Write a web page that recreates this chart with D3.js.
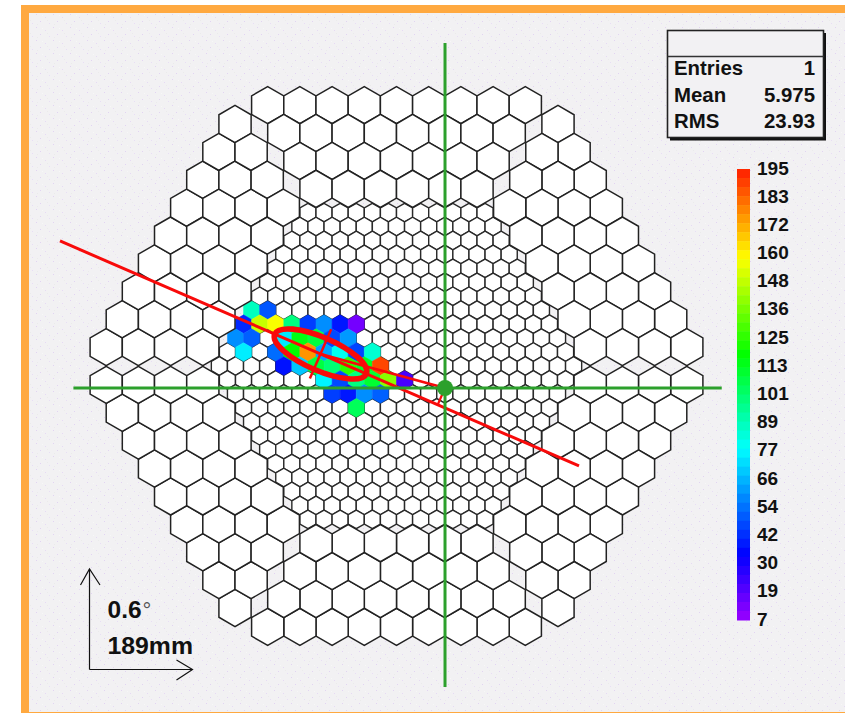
<!DOCTYPE html>
<html><head><meta charset="utf-8">
<script src="https://cdnjs.cloudflare.com/ajax/libs/d3/7.8.5/d3.min.js"></script>
<style>html,body{margin:0;padding:0;background:#fff}svg{display:block}text{font-family:"Liberation Sans",Arial,sans-serif;font-weight:700;fill:#111}</style>
</head><body><svg id="c" width="845" height="713"></svg>
<script>
// ---- data ----
const statLabels = ["Entries", "Mean", "RMS"];
const statValues = ["1", "5.975", "23.93"];
const colorTicks = [195,183,172,160,148,136,125,113,101,89,77,66,54,42,30,19,7];
const paletteValues = [7,33,78,118,159,195];
const paletteColors = ["#9000ff","#0000ff","#00ffff","#00ff00","#ffff00","#ff2800"];
const innerRings = 11;
const outerRowCounts = [9,8,7,6];
const litRows = [-4,-4,
  -3,-3,-3,-3,-3,-3,-3,-3,
  -2,-2,-2,-2,-2,-2,-2,
  -1,-1,-1,-1,-1,-1,-1,-1,
  0,0,0,0,0,0,0,
  1,1,1,1,1,1,
  2,2,2,2,
  3];
const litCols = [-9,-8,
  -9.5,-8.5,-7.5,-6.5,-5.5,-4.5,-3.5,-2.5,
  -10,-9,-7,-6,-5,-4,-3,
  -9.5,-7.5,-6.5,-5.5,-4.5,-3.5,-2.5,-1.5,
  -7,-6,-5,-4,-3,-2,-1,
  -4.5,-3.5,-2.5,-1.5,-0.5,0.5,
  -4,-3,-2,-1,
  -2.5];
const litValues = [88,48,
  40,150,158,98,44,58,37,12,
  58,50,74,115,108,46,60,
  75,52,118,177,62,80,45,85,
  36,68,108,100,125,112,190,
  76,46,98,110,140,20,
  44,37,58,50,
  104];
const sourcePos = [90.4,41];
const axisStart = [-627,-233];
const axisEnd = [340,186.3];
const ellipseCentre = [-141.6,-22.4];
const ellipseLength = 93, ellipseWidth = 31, ellipseAngle = 23.4, minorAxisHalf = 50;
const axisFoot = [76.8,72.1];
const crossX = [-602,606], crossY = [-602,598];
const innerPitch = 30, outerPitch = 60, scaleMm = 189;

// ---- scales ----
const k = 0.5367;
const x = d3.scaleLinear().domain([-100,100]).range([396.5-100*k,396.5+100*k]);
const y = d3.scaleLinear().domain([-100,100]).range([366-100*k,366+100*k]);
const color = d3.scaleLinear().domain(paletteValues).range(paletteColors).clamp(true);
const svg = d3.select("#c");

// ---- frame ----
const defs = svg.append("defs");
const pat = defs.append("pattern").attr("id","bg").attr("width",17).attr("height",13).attr("patternUnits","userSpaceOnUse");
pat.append("rect").attr("width",17).attr("height",13).attr("fill","#f2f1f3");
[[2,1,"#e2d4f2"],[11,4,"#e6daf4"],[6,8,"#e2d4f2"],[15,10,"#e8def5"],[8,2,"#f7f7f7"],[13,7,"#ebebeb"],[3,11,"#ebebeb"]]
  .forEach(p=>pat.append("rect").attr("x",p[0]).attr("y",p[1]).attr("width",1).attr("height",1).attr("fill",p[2]));
svg.append("rect").attr("x",21).attr("y",5).attr("width",824).attr("height",708).attr("fill","#ffa940");
svg.append("rect").attr("x",29).attr("y",13).attr("width",816).attr("height",699).attr("fill","url(#bg)");

// ---- camera ----
const hexLine = d3.line();
function hexPath(cx,cy,pitch){
  const R = pitch/Math.sqrt(3);
  return hexLine(d3.range(6).map(i=>{const a=Math.PI/3*i; return [x(cx+R*Math.sin(a)), y(cy-R*Math.cos(a))];}))+"Z";
}
const rowStep = Math.sqrt(3)/2;
const inner = [];
for(let r=-innerRings;r<=innerRings;r++){
  const n = 2*innerRings+1-Math.abs(r);
  for(let c=0;c<n;c++) inner.push({cx:(c-(n-1)/2)*innerPitch, cy:r*innerPitch*rowStep, v:null});
}
const litIndex = new Map(litRows.map((r,i)=>[r+"|"+litCols[i],litValues[i]]));
inner.forEach(p=>{
  const key = Math.round(p.cy/(innerPitch*rowStep))+"|"+(p.cx/innerPitch);
  if(litIndex.has(key)) p.v = litIndex.get(key);
});
const outer = [];
d3.range(6).forEach(s=>{
  const a = Math.PI/3*s, ca=Math.cos(a), sa=Math.sin(a);
  outerRowCounts.forEach((n,ri)=>{
    d3.range(n).forEach(c=>{
      const px=(c-(n-1)/2)*outerPitch, py=-(486-ri*outerPitch*rowStep);
      outer.push({cx:px*ca-py*sa, cy:px*sa+py*ca, v:null});
    });
  });
});
svg.append("g").selectAll("path").data(inner.filter(d=>d.v===null)).join("path")
  .attr("d",d=>hexPath(d.cx,d.cy,innerPitch)).attr("fill","#fff").attr("stroke","#2a2a2a").attr("stroke-width",1.4);
svg.append("g").selectAll("path").data(inner.filter(d=>d.v!==null)).join("path")
  .attr("d",d=>hexPath(d.cx,d.cy,innerPitch)).attr("fill",d=>color(d.v)).attr("stroke",d=>color(d.v)).attr("stroke-width",0.5);
svg.append("g").selectAll("path").data(outer).join("path")
  .attr("d",d=>hexPath(d.cx,d.cy,outerPitch)).attr("fill","#fff").attr("stroke","#222").attr("stroke-width",1.5);

// ---- image parameters ----
const red = "#f80a0a";
function seg(a,b,w,c){return svg.append("line").attr("x1",x(a[0])).attr("y1",y(a[1])).attr("x2",x(b[0])).attr("y2",y(b[1])).attr("stroke",c).attr("stroke-width",w);}
seg(axisStart,axisEnd,3,red);
seg(ellipseCentre,sourcePos,2.8,red);
seg(sourcePos,axisFoot,2.2,red);
const th = ellipseAngle*Math.PI/180;
seg([ellipseCentre[0]-minorAxisHalf*Math.sin(th),ellipseCentre[1]+minorAxisHalf*Math.cos(th)],
    [ellipseCentre[0]+minorAxisHalf*Math.sin(th),ellipseCentre[1]-minorAxisHalf*Math.cos(th)],2.5,red);
svg.append("ellipse").attr("cx",x(ellipseCentre[0])).attr("cy",y(ellipseCentre[1]))
  .attr("rx",x(ellipseLength)-x(0)).attr("ry",x(ellipseWidth)-x(0))
  .attr("transform",`rotate(${ellipseAngle} ${x(ellipseCentre[0])} ${y(ellipseCentre[1])})`)
  .attr("fill","none").attr("stroke",red).attr("stroke-width",5.6);

// ---- source cross ----
const green = "#2ca02c";
seg([sourcePos[0],crossY[0]],[sourcePos[0],crossY[1]],3,green);
seg([crossX[0],sourcePos[1]],[crossX[1],sourcePos[1]],3,green);
svg.append("circle").attr("cx",x(sourcePos[0])).attr("cy",y(sourcePos[1])).attr("r",8).attr("fill",green);

// ---- stats box ----
const box = svg.append("g");
box.append("rect").attr("x",670).attr("y",33).attr("width",156).attr("height",107.5).attr("fill","#111");
box.append("rect").attr("x",667.5).attr("y",30.5).attr("width",156).attr("height",107).attr("fill","#f2f1f3").attr("stroke","#222").attr("stroke-width",1.6);
box.append("line").attr("x1",667.5).attr("x2",823.5).attr("y1",56.5).attr("y2",56.5).attr("stroke","#333").attr("stroke-width",1.6);
const statY = d3.scalePoint().domain(statLabels).range([75,128]);
box.selectAll("text.l").data(statLabels).join("text").attr("class","l").attr("x",674).attr("y",d=>statY(d)).attr("font-size",20.4).text(d=>d);
box.selectAll("text.v").data(statLabels).join("text").attr("class","v").attr("x",815).attr("y",d=>statY(d)).attr("text-anchor","end").attr("font-size",20.4).text((d,i)=>statValues[i]);

// ---- palette ----
const bands = 50;
const barY = d3.scaleBand().domain(d3.range(bands)).range([169,620]);
const bandVal = d3.scaleLinear().domain([0,bands-1]).range([195,7]);
svg.append("g").selectAll("rect").data(d3.range(bands)).join("rect")
  .attr("x",737).attr("width",13).attr("y",d=>barY(d)).attr("height",barY.bandwidth()+0.5).attr("fill",d=>color(bandVal(d)));
const tickY = d3.scalePoint().domain(colorTicks).range([174.5,625.5]);
svg.append("g").selectAll("text").data(colorTicks).join("text").attr("x",757).attr("y",d=>tickY(d)).attr("font-size",19).text(d=>d);

// ---- scale arrows ----
const arrow = d3.line();
const g = svg.append("g").attr("fill","none").attr("stroke","#111").attr("stroke-width",1.2);
g.append("path").attr("d",arrow([[89.5,669.5],[89.5,569]]));
g.append("path").attr("d",arrow([[80.5,585],[89.5,569],[100,585]]));
g.append("path").attr("d",arrow([[89.5,669.5],[192.5,669.5]]));
g.append("path").attr("d",arrow([[176.5,660],[192.5,669.5],[176.5,680]]));
const t1 = svg.append("text").attr("x",107.5).attr("y",618).attr("font-size",24.5).text("0.6");
t1.append("tspan").attr("dx",1).style("font-weight",400).style("font-size","22px").style("fill","#555").text("°");
svg.append("text").attr("x",107.5).attr("y",654).attr("font-size",24.8).text(scaleMm+"mm");
</script></body></html>
